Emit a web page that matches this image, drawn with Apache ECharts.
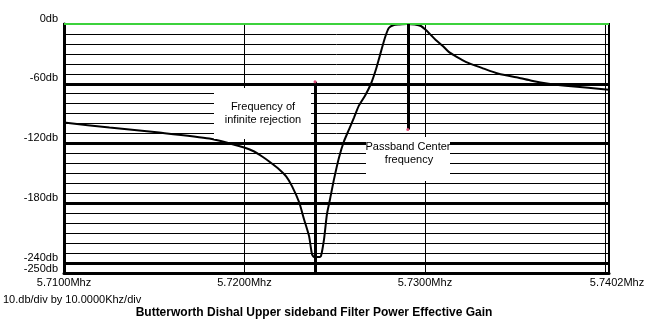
<!DOCTYPE html>
<html><head><meta charset="utf-8">
<script src="https://cdn.jsdelivr.net/npm/echarts@6/dist/echarts.min.js"></script>
<style>html,body{margin:0;padding:0;background:#fff}#c{width:658px;height:323px}</style>
</head><body><div id="c"></div>
<script>
// Frequency (MHz) and effective power gain (dB)
const freqMHz = [5.7100, 5.71252, 5.71528, 5.71805, 5.71998, 5.72054, 5.72098, 5.72137, 5.72193, 5.72231,
  5.72264, 5.72303, 5.72330, 5.72358, 5.72374, 5.72386, 5.72413, 5.72424, 5.72441, 5.72457,
  5.72474, 5.72496, 5.72524, 5.72551, 5.72579, 5.72607, 5.72634, 5.72668, 5.72701, 5.72728,
  5.72756, 5.72778, 5.72800, 5.72828, 5.72856, 5.72900, 5.72944, 5.72978, 5.73005, 5.73033,
  5.73060, 5.73099, 5.73132, 5.73176, 5.73226, 5.73315, 5.73409, 5.73519, 5.73591, 5.73685,
  5.73779, 5.73906, 5.74020];
const gainDb = [-99, -104, -109, -115, -124, -128, -133, -138, -146, -153,
  -163, -179, -196, -213, -231, -234, -234, -233, -216, -191,
  -176, -156, -134, -118, -106, -94, -82, -72, -60, -46,
  -28, -14, -4, -1, -0.5, 0, -0.5, -2, -6, -11,
  -16, -22, -28, -33, -38, -44, -50, -54, -57, -60,
  -62, -64, -66];
const yTickLabels = [0, -60, -120, -180, -240];
const yMinLabel = -250;
const majorDbLines = [-60, -120, -180, -240, -250];
const xTickLabels = ['5.7100', '5.7200', '5.7300', '5.7402'];
const infiniteRejectionMHz = 5.72391;
const infiniteRejectionTopDb = -58;
const passbandCenterMHz = 5.72905;
const passbandCenterBottomDb = -106;
const xMin = 5.7100, xMax = 5.7402, yMin = -250, yMax = 0;

const chart = echarts.init(document.getElementById('c'), null, {renderer: 'canvas'});
const FONT = 'Liberation Sans, Arial, sans-serif';

const markData = [];
majorDbLines.forEach(v => {
  const item = {yAxis: v, lineStyle: {color: '#000', width: 3, type: 'solid'}};
  if (v === yMinLabel) {
    item.label = {show: true, position: 'start', distance: 6, formatter: v + 'db', color: '#000',
      fontFamily: FONT, fontSize: 11, align: 'right', verticalAlign: 'bottom', padding: [0, 0, -1, 0]};
  }
  markData.push(item);
});
markData.push({yAxis: 0, lineStyle: {color: '#3cd23c', width: 2, type: 'solid'}});
markData.push([{coord: [infiniteRejectionMHz, infiniteRejectionTopDb]}, {coord: [infiniteRejectionMHz, yMin]}]);
markData.push([{coord: [passbandCenterMHz, yMax]}, {coord: [passbandCenterMHz, passbandCenterBottomDb]}]);

chart.setOption({
  animation: false,
  backgroundColor: '#fff',
  grid: {left: 64, right: 49, top: 24, bottom: 50, show: true, borderColor: '#000', borderWidth: 2, backgroundColor: 'transparent'},
  xAxis: {
    type: 'value', min: xMin, max: xMax, interval: 0.01,
    axisLine: {show: true, onZero: false, lineStyle: {color: '#000', width: 3}},
    axisTick: {show: false},
    splitLine: {show: true, lineStyle: {color: '#000', width: 1}},
    axisLabel: {
      margin: 4, color: '#000', fontFamily: FONT, fontSize: 11,
      showMinLabel: true, showMaxLabel: true,
      formatter: v => {
        const s = v.toFixed(4);
        if (!xTickLabels.includes(s)) return '';
        return s === xTickLabels[xTickLabels.length - 1] ? '{last|' + s + 'Mhz}' : s + 'Mhz';
      },
      rich: {last: {padding: [0, 0, 0, 16], fontFamily: FONT, fontSize: 11, color: '#000'}}
    }
  },
  yAxis: {
    type: 'value', min: yMin, max: yMax, interval: 10,
    axisLine: {show: true, lineStyle: {color: '#000', width: 3}},
    axisTick: {show: false},
    splitLine: {show: true, lineStyle: {color: '#000', width: 1}},
    axisLabel: {
      margin: 6, color: '#000', fontFamily: FONT, fontSize: 11, verticalAlign: 'bottom',
      showMinLabel: false, showMaxLabel: true,
      formatter: v => yTickLabels.includes(Math.round(v)) ? Math.round(v) + 'db' : ''
    }
  },
  series: [{
    type: 'line',
    data: freqMHz.map((f, i) => [f, gainDb[i]]),
    showSymbol: false, symbol: 'none', smooth: 0.2,
    lineStyle: {color: '#000', width: 2},
    silent: true, z: 3,
    markLine: {silent: true, symbol: ['none', 'none'], label: {show: false}, animation: false,
      lineStyle: {color: '#000', width: 3, type: 'solid'}, data: markData, z: 4},
    markPoint: {silent: true, animation: false, symbol: 'circle', symbolSize: 3, label: {show: false},
      itemStyle: {color: '#e0507a'},
      data: [{coord: [infiniteRejectionMHz, infiniteRejectionTopDb]}, {coord: [passbandCenterMHz, passbandCenterBottomDb]}]}
  }],
  graphic: [
    {type: 'rect', z: 20, shape: {x: 214, y: 88, width: 97, height: 51}, style: {fill: '#fff'}},
    {type: 'text', z: 21, x: 263, y: 107, style: {text: 'Frequency of', font: '11px ' + FONT, fill: '#000', align: 'center', verticalAlign: 'middle'}},
    {type: 'text', z: 21, x: 263, y: 120, style: {text: 'infinite rejection', font: '11px ' + FONT, fill: '#000', align: 'center', verticalAlign: 'middle'}},
    {type: 'rect', z: 20, shape: {x: 366, y: 137, width: 84, height: 44}, style: {fill: '#fff'}},
    {type: 'text', z: 21, x: 408, y: 147, style: {text: 'Passband Center', font: '11px ' + FONT, fill: '#000', align: 'center', verticalAlign: 'middle'}},
    {type: 'text', z: 21, x: 409, y: 160, style: {text: 'frequency', font: '11px ' + FONT, fill: '#000', align: 'center', verticalAlign: 'middle'}},
    {type: 'text', z: 21, x: 3, y: 300, style: {text: '10.db/div by 10.0000Khz/div', font: '11px ' + FONT, fill: '#000', align: 'left', verticalAlign: 'middle'}},
    {type: 'text', z: 21, x: 314, y: 313, style: {text: 'Butterworth Dishal Upper sideband Filter Power Effective Gain', font: 'bold 12px ' + FONT, fill: '#000', align: 'center', verticalAlign: 'middle'}}
  ]
});
</script>
</body></html>
